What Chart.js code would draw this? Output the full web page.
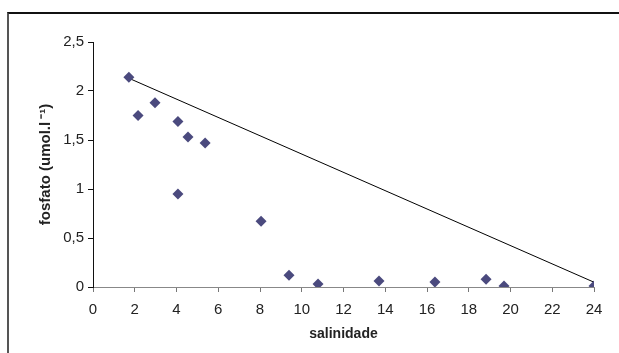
<!DOCTYPE html>
<html>
<head>
<meta charset="utf-8">
<script src="https://cdn.jsdelivr.net/npm/chart.js@4.4.1/dist/chart.umd.min.js"></script>
<style>
  html, body { margin: 0; padding: 0; background: #fff; }
  #wrap { position: relative; width: 619px; height: 353px; overflow: hidden; }
  #frame { position: absolute; left: 7px; top: 12px; width: 700px; height: 400px;
           border-top: 2px solid #111; border-left: 2px solid #555; box-sizing: border-box; }
  canvas { position: absolute; left: 0; top: 0; }
</style>
</head>
<body>
<div id="wrap">
  <div id="frame"></div>
  <canvas id="c" width="619" height="353"></canvas>
</div>
<script>
// Salinity (x) and phosphate (y) of each sample
const salinidade = [1.72, 2.16, 2.97, 4.07, 4.55, 5.37, 4.07, 8.05, 9.39, 10.78, 13.70, 16.38, 18.83, 19.69, 24.0];
const fosfato    = [2.14, 1.75, 1.88, 1.69, 1.53, 1.47, 0.95, 0.67, 0.12, 0.03, 0.06, 0.05, 0.08, 0.01, 0.01];

// Theoretical dilution line between the two end members
const linhaX = [1.72, 24.2];
const linhaY = [2.13, 0.03];

const xTicks = [0, 2, 4, 6, 8, 10, 12, 14, 16, 18, 20, 22, 24];
const yTicks = [0, 0.5, 1, 1.5, 2, 2.5];

const fmt = v => String(v).replace('.', ',');
const FONT = 'Liberation Sans, Arial, sans-serif';

new Chart(document.getElementById('c'), {
  type: 'scatter',
  data: {
    datasets: [
      {
        label: 'fosfato',
        data: salinidade.map((x, i) => ({ x, y: fosfato[i] })),
        pointStyle: 'rectRot',
        pointRadius: 5.5,
        backgroundColor: '#4b4a7e',
        borderColor: '#4b4a7e',
        borderWidth: 0,
        showLine: false,
        order: 1
      },
      {
        label: 'diluição',
        data: linhaX.map((x, i) => ({ x, y: linhaY[i] })),
        showLine: true,
        borderColor: '#000',
        borderWidth: 1,
        pointRadius: 0,
        fill: false,
        order: 2
      }
    ]
  },
  options: {
    responsive: false,
    animation: false,
    events: [],
    layout: { padding: { left: 34, right: 25, top: 42, bottom: 10 } },
    plugins: { legend: { display: false }, tooltip: { enabled: false } },
    scales: {
      x: {
        type: 'linear',
        min: 0, max: 24,
        afterBuildTicks: s => { s.ticks = xTicks.map(v => ({ value: v })); },
        afterFit: s => { s.height = 56; },
        ticks: {
          color: '#222',
          font: { family: FONT, size: 15 },
          padding: 9,
          maxRotation: 0,
          callback: v => fmt(v)
        },
        grid: { drawOnChartArea: false, drawTicks: true, tickLength: 5, color: '#777' },
        border: { display: true, color: '#888', width: 1 },
        title: {
          display: true,
          text: 'salinidade',
          color: '#222',
          font: { family: FONT, size: 14, weight: 'bold' },
          padding: { top: 0, bottom: 0 }
        }
      },
      y: {
        type: 'linear',
        min: 0, max: 2.5,
        afterBuildTicks: s => { s.ticks = yTicks.map(v => ({ value: v })); },
        afterFit: s => { s.width = 59; },
        ticks: {
          color: '#222',
          font: { family: FONT, size: 15 },
          padding: 4,
          callback: v => fmt(v)
        },
        grid: { drawOnChartArea: false, drawTicks: true, tickLength: 5, color: '#111' },
        border: { display: true, color: '#111', width: 1 },
        title: {
          display: true,
          text: 'fosfato (umol.l\u2009\u207B\u00B9)',
          color: '#222',
          font: { family: FONT, size: 15, weight: 'bold' },
          padding: { top: 3, bottom: 0 }
        }
      }
    }
  }
});
</script>
</body>
</html>
